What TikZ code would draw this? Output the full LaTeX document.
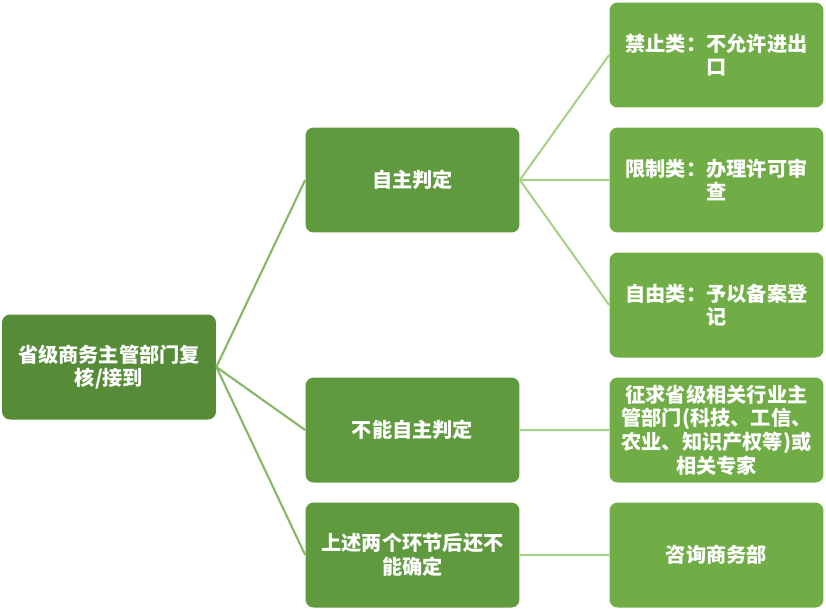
\documentclass[tikz,border=0pt]{standalone}
\usepackage{fontspec}
\newfontfamily\cjk{Noto Sans CJK SC}
\definecolor{rootgreen}{HTML}{568B38}
\definecolor{midgreen}{HTML}{609A3E}
\definecolor{leafgreen}{HTML}{70AD47}
\definecolor{linkdark}{HTML}{86B866}
\definecolor{linklight}{HTML}{A9D18E}
\begin{document}
\begin{tikzpicture}[x=0.02cm,y=-0.02cm,line cap=butt,line join=miter]
				\tikzset{box/.style={rounded corners=0.16cm,minimum width=4.28cm,minimum height=2.1cm,
						text=white,align=center,inner sep=2pt,font=\cjk\bfseries\fontsize{11.5}{13.5}\selectfont},
					rootbox/.style={box,fill=rootgreen},
					midbox/.style={box,fill=midgreen},
					leafbox/.style={box,fill=leafgreen}
				}
				\useasboundingbox (0,0) rectangle (826,610);
				% root
				\node[rootbox] (root) at (109,367) {省级商务主管部门复\\核/接到};
				% second column
				\node[midbox] (self) at (412.5,180) {自主判定};
				\node[midbox] (notself) at (412.5,430) {不能自主判定};
				\node[midbox] (unsure) at (412.5,555) {上述两个环节后还不\\能确定};
				% third column
				\node[leafbox] (ban) at (716.5,55) {禁止类：不允许进出\\口};
				\node[leafbox] (limit) at (716.5,180) {限制类：办理许可审\\查};
				\node[leafbox] (free) at (716.5,305) {自由类：予以备案登\\记};
				\node[leafbox] (ask) at (716.5,430) {征求省级相关行业主\\管部门(科技、工信、\\农业、知识产权等)或\\相关专家};
				\node[leafbox] (mofcom) at (716.5,555) {咨询商务部};
				\draw[linkdark,line width=1.2pt] (root.east)--(self.west) (root.east)--(notself.west) (root.east)--(unsure.west);
				\draw[linklight,line width=1.2pt] (self.east)--(ban.west) (self.east)--(limit.west) (self.east)--(free.west)
				(notself.east)--(ask.west) (unsure.east)--(mofcom.west);
			\end{tikzpicture}
\end{document}
